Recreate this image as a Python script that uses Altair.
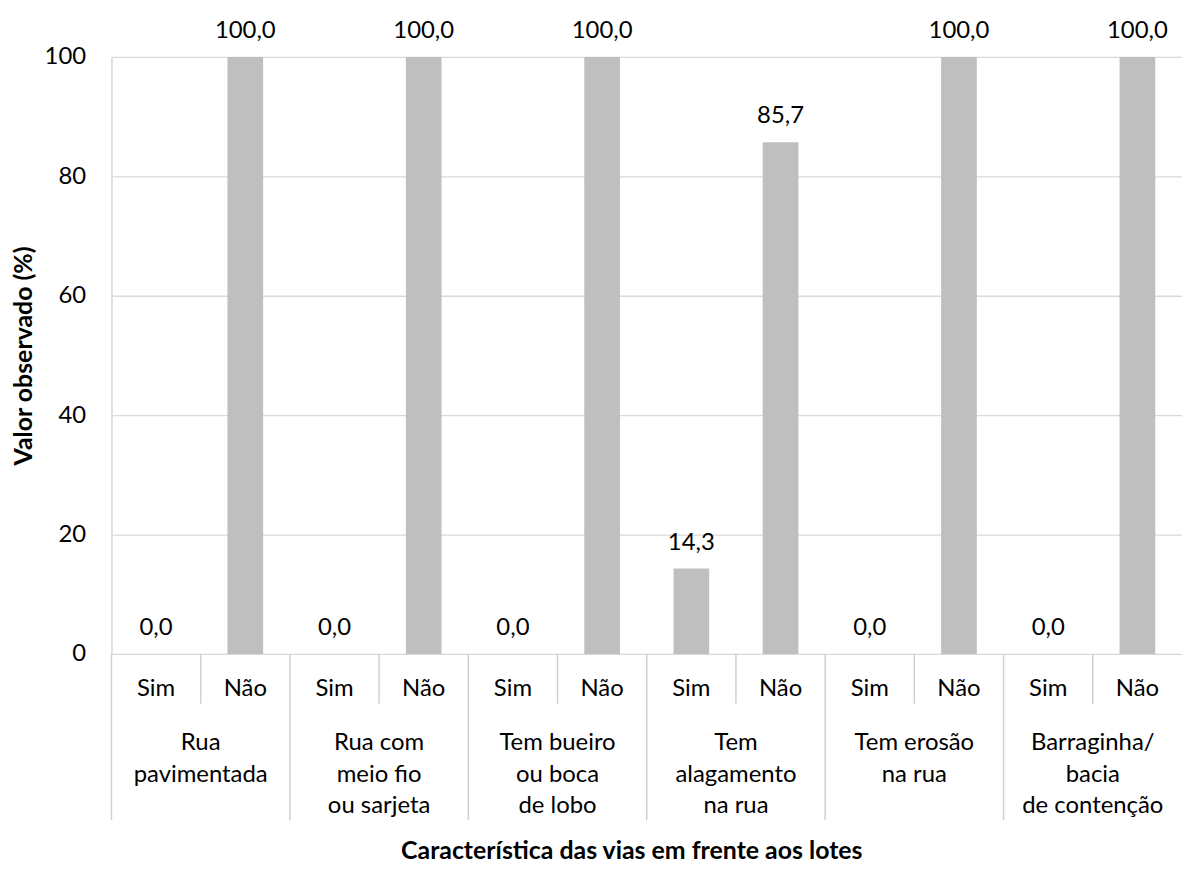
import altair as alt
import pandas as pd

groups = ["Rua\npavimentada", "Rua com\nmeio fio\nou sarjeta", "Tem bueiro\nou boca\nde lobo",
          "Tem\nalagamento\nna rua", "Tem erosão\nna rua", "Barraginha/\nbacia\nde contenção"]
subs = ["Sim", "Não"]
sim_vals = [0.0, 0.0, 0.0, 14.3, 0.0, 0.0]
nao_vals = [100.0, 100.0, 100.0, 85.7, 100.0, 100.0]
y_title = "Valor observado (%)"
x_title = "Característica das vias em frente aos lotes"

rows = []
for i, g in enumerate(groups):
    for s, v in zip(subs, [sim_vals[i], nao_vals[i]]):
        rows.append({"key": f"g{i}_{s}", "group": g, "sub": s, "value": v,
                     "label": f"{v:.1f}".replace(".", ",")})
df = pd.DataFrame(rows)
order = list(df["key"])

FONT = "Lato"
FS = 24
TFS = 25
W, H = 1076, 600

xenc = alt.X("key:N", sort=order, axis=None,
             scale=alt.Scale(paddingInner=0, paddingOuter=0))
xenc0 = alt.X("key:N", sort=order, axis=None, bandPosition=0,
              scale=alt.Scale(paddingInner=0, paddingOuter=0))

base = alt.Chart(df)

bars = base.mark_bar(width=alt.RelativeBandSize(0.4), color="#BFBFBF").encode(
    x=xenc,
    y=alt.Y("value:Q", scale=alt.Scale(domain=[0, 100]),
            axis=alt.Axis(values=[0, 20, 40, 60, 80, 100], title=y_title,
                          grid=True, gridColor="#D9D9D9", gridWidth=1.3,
                          domainColor="#D9D9D9", domainWidth=1.3, ticks=False,
                          labelFont=FONT, labelFontSize=FS, labelColor="#000000",
                          labelPadding=26,
                          titleFont=FONT, titleFontSize=TFS, titleFontWeight="bold",
                          titleColor="#000000", titleAngle=270, titleBaseline="middle",
                          titleX=-88, titleY=H / 2, titleAnchor="middle")),
)

vlabels = base.mark_text(font=FONT, fontSize=FS, color="#000000", baseline="middle", dy=-26).encode(
    x=xenc, y=alt.Y("value:Q"), text="label:N")

sublabels = base.mark_text(font=FONT, fontSize=FS, color="#000000", baseline="alphabetic").encode(
    x=xenc, y=alt.value(642), text="sub:N")

subrules = base.transform_filter(alt.datum.sub == "Não").mark_rule(
    color="#D0D0D0", strokeWidth=1.5).encode(x=xenc0, y=alt.value(H), y2=alt.value(650))

grouprules = base.transform_filter(alt.datum.sub == "Sim").mark_rule(
    color="#D0D0D0", strokeWidth=1.5).encode(x=xenc0, y=alt.value(H), y2=alt.value(767))

grouplabels = base.transform_filter(alt.datum.sub == "Não").mark_text(
    font=FONT, fontSize=FS, color="#000000", baseline="alphabetic",
    lineBreak="\n", lineHeight=31.5).encode(x=xenc0, y=alt.value(697), text="group:N")

xt = alt.Chart(pd.DataFrame({"t": [x_title]})).mark_text(
    font=FONT, fontSize=TFS, fontWeight="bold", color="#000000", baseline="alphabetic").encode(
    x=alt.value(523), y=alt.value(806), text="t:N")

chart = alt.layer(bars, vlabels, sublabels, subrules, grouprules, grouplabels, xt).properties(
    width=W, height=H,
    autosize=alt.AutoSizeParams(type="none"),
    padding={"left": 104, "top": 47, "right": 0, "bottom": 220},
).configure_view(stroke=None).configure(background="white")

chart.save("out.html", embed_options={"renderer": "svg", "actions": False})
